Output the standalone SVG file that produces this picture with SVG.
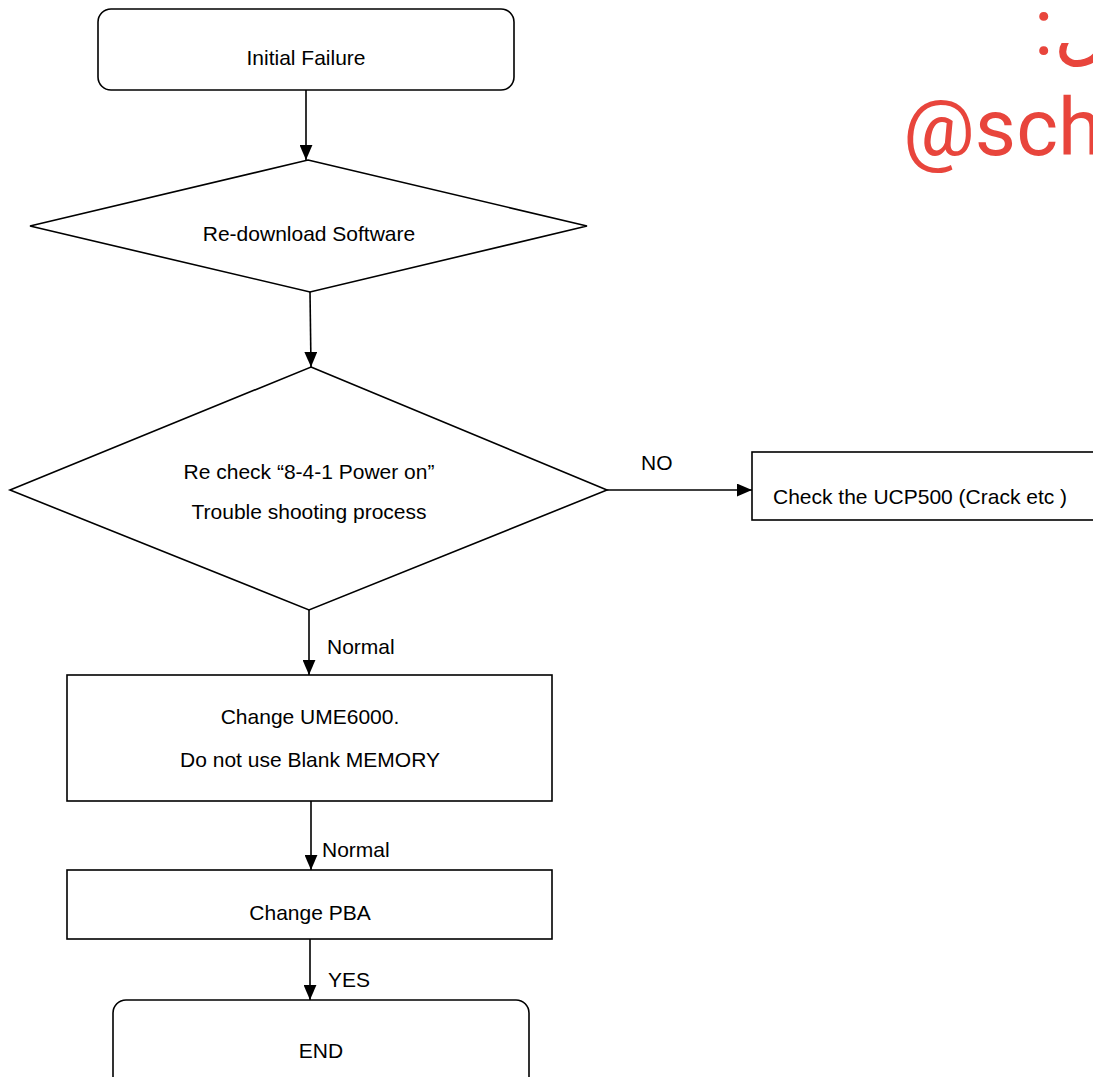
<svg xmlns="http://www.w3.org/2000/svg" width="1093" height="1077" viewBox="0 0 1093 1077">
<style>
.n{fill:#fff;stroke:#000;stroke-width:1.6}
.t{font-family:"Liberation Sans",Arial,sans-serif;font-size:21px;fill:#000;text-anchor:middle}
.l{font-family:"Liberation Sans",Arial,sans-serif;font-size:21px;fill:#000}
.c{stroke:#000;stroke-width:1.6;fill:none;marker-end:url(#ah)}
.w{font-family:Roboto,"DejaVu Sans",sans-serif;fill:#e8453c}
</style>
<defs>
<marker id="ah" viewBox="0 0 14 12" refX="14" refY="6" markerWidth="15" markerHeight="13" markerUnits="userSpaceOnUse" orient="auto">
<path d="M0,0 L14,6 L0,12 Z" fill="#000"/>
</marker>
</defs>
<rect width="1093" height="1077" fill="#fff"/>
<g id="watermark">
<text class="w" x="1034" y="55" font-size="80">:ل</text>
<text class="w" x="903" y="155" font-size="80">@sch</text>
</g>
<g id="connectors">
<line class="c" x1="306" y1="90" x2="306" y2="160"/>
<line class="c" x1="310" y1="292" x2="311" y2="367"/>
<line class="c" x1="607" y1="490" x2="752" y2="490"/>
<line class="c" x1="309" y1="610" x2="309" y2="675"/>
<line class="c" x1="311" y1="801" x2="311" y2="870"/>
<line class="c" x1="310" y1="939" x2="310" y2="1000"/>
<text class="l" x="641" y="470">NO</text>
<text class="l" x="327" y="654">Normal</text>
<text class="l" x="322" y="857">Normal</text>
<text class="l" x="328" y="987">YES</text>
</g>
<g id="n1">
<rect class="n" x="98" y="9" width="416" height="81" rx="13"/>
<text class="t" x="306" y="65">Initial Failure</text>
</g>
<g id="n2">
<polygon class="n" points="308,160 587,226 310,292 30,226"/>
<text class="t" x="309" y="241">Re-download Software</text>
</g>
<g id="n3">
<polygon class="n" points="311,367 607,490 309,610 10,490"/>
<text class="t" x="309" y="479">Re check “8-4-1 Power on”</text>
<text class="t" x="309" y="519">Trouble shooting process</text>
</g>
<g id="n4">
<rect class="n" x="752" y="452" width="360" height="68"/>
<text class="l" x="773" y="504">Check the UCP500 (Crack etc )</text>
</g>
<g id="n5">
<rect class="n" x="67" y="675" width="485" height="126"/>
<text class="t" x="310" y="724">Change UME6000.</text>
<text class="t" x="310" y="767">Do not use Blank MEMORY</text>
</g>
<g id="n6">
<rect class="n" x="67" y="870" width="485" height="69"/>
<text class="t" x="310" y="920">Change PBA</text>
</g>
<g id="n7">
<rect class="n" x="113" y="1000" width="416" height="90" rx="13"/>
<text class="t" x="321" y="1058">END</text>
</g>
</svg>
